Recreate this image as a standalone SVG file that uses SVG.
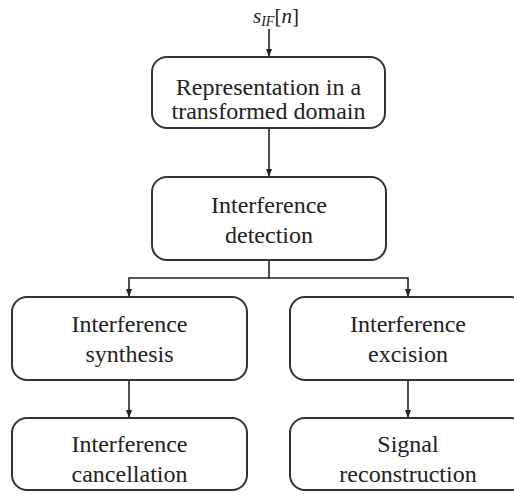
<svg xmlns="http://www.w3.org/2000/svg" width="514" height="503" viewBox="0 0 514 503">
<style>
.box{fill:#fff;stroke:#333;stroke-width:2}
.lbl{font-family:'Liberation Serif','Times New Roman',serif;font-size:24px;fill:#222;text-anchor:middle}
.math{font-family:'Liberation Serif','Times New Roman',serif;fill:#222;font-style:italic}
.conn{fill:none;stroke:#222;stroke-width:1.6}
</style>
<defs>
<marker id="ah" viewBox="0 0 8 8" refX="8" refY="4" markerWidth="8" markerHeight="8" markerUnits="userSpaceOnUse" orient="auto">
<path d="M0,1 L8,4 L0,7 z" fill="#222"/>
</marker>
</defs>
<g id="connectors">
<line class="conn" x1="269" y1="29" x2="269" y2="57" marker-end="url(#ah)"/>
<line class="conn" x1="269" y1="128" x2="269" y2="177" marker-end="url(#ah)"/>
<polyline class="conn" points="269,260 269,278 129,278 129,297" marker-end="url(#ah)"/>
<polyline class="conn" points="269,278 408,278 408,297" marker-end="url(#ah)"/>
<line class="conn" x1="129" y1="380" x2="129" y2="418" marker-end="url(#ah)"/>
<line class="conn" x1="408" y1="380" x2="408" y2="418" marker-end="url(#ah)"/>
</g>
<g id="input">
<text class="math" x="253" y="23" font-size="21">s<tspan font-size="14" dy="3">IF</tspan><tspan dy="-3" font-style="normal">[</tspan>n<tspan font-style="normal">]</tspan></text>
</g>
<g id="representation">
<rect class="box" x="152" y="57" width="233" height="71" rx="15"/>
<text class="lbl" x="268.5" y="95">Representation in a</text>
<text class="lbl" x="268.5" y="119">transformed domain</text>
</g>
<g id="detection">
<rect class="box" x="152" y="177" width="234" height="83" rx="15"/>
<text class="lbl" x="269" y="213">Interference</text>
<text class="lbl" x="269" y="243">detection</text>
</g>
<g id="synthesis">
<rect class="box" x="12" y="297" width="235" height="83" rx="15"/>
<text class="lbl" x="129.5" y="332">Interference</text>
<text class="lbl" x="129.5" y="362">synthesis</text>
</g>
<g id="excision">
<rect class="box" x="290" y="297" width="236" height="83" rx="15"/>
<text class="lbl" x="408" y="332">Interference</text>
<text class="lbl" x="408" y="362">excision</text>
</g>
<g id="cancellation">
<rect class="box" x="12" y="418" width="235" height="72" rx="15"/>
<text class="lbl" x="129.5" y="452">Interference</text>
<text class="lbl" x="129.5" y="482">cancellation</text>
</g>
<g id="reconstruction">
<rect class="box" x="290" y="418" width="236" height="72" rx="15"/>
<text class="lbl" x="408" y="452">Signal</text>
<text class="lbl" x="408" y="482">reconstruction</text>
</g>
</svg>
